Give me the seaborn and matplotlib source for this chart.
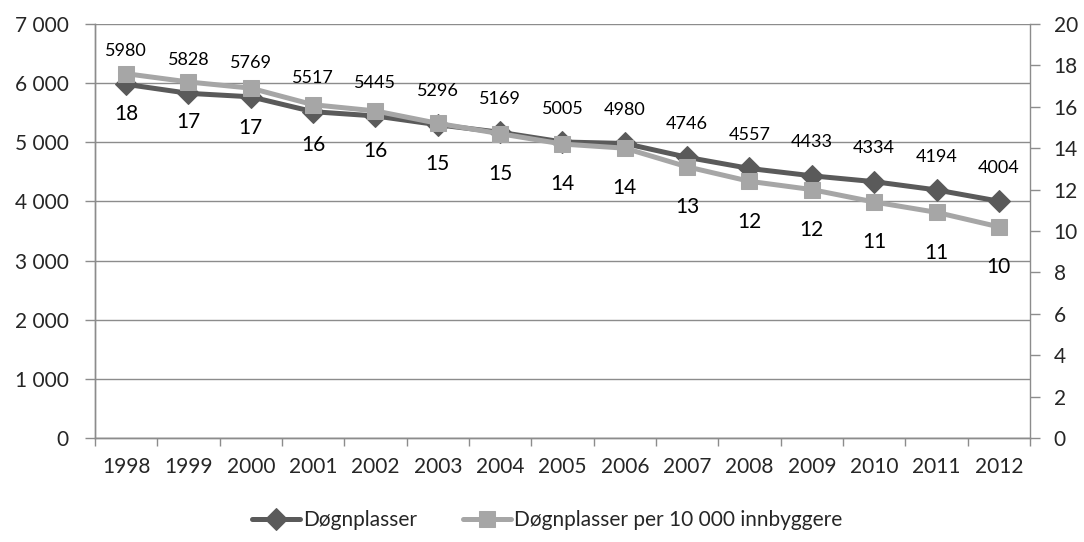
import matplotlib
matplotlib.use("Agg")
import matplotlib.pyplot as plt
import matplotlib.ticker as mticker
import numpy as np
import pandas as pd
import seaborn as sns

YEARS = ["1998", "1999", "2000", "2001", "2002", "2003", "2004", "2005",
         "2006", "2007", "2008", "2009", "2010", "2011", "2012"]
PLACES = [5980, 5828, 5769, 5517, 5445, 5296, 5169, 5005,
          4980, 4746, 4557, 4433, 4334, 4194, 4004]
PER_10000 = [17.6, 17.2, 16.9, 16.1, 15.8, 15.2, 14.7, 14.2,
             14.0, 13.1, 12.4, 12.0, 11.4, 10.9, 10.2]

DARK = "#5a5a5a"
LIGHT = "#a6a6a6"
GRID = "#8c8c8c"


def space_thousands(value, _pos):
    return f"{int(value):,}".replace(",", " ")


def main() -> None:
    sns.set_theme(style="white")
    plt.rcParams["font.family"] = ["Lato", "DejaVu Sans"]

    df = pd.DataFrame({"year": YEARS, "places": PLACES, "per10k": PER_10000})

    fig = plt.figure(figsize=(10.84, 5.42), dpi=100)
    ax = fig.add_axes([0.0876, 0.192, 0.8626, 0.7637])
    ax2 = ax.twinx()

    sns.lineplot(data=df, x="year", y="places", ax=ax, color=DARK, linewidth=3.6,
                 marker="D", markersize=11, markeredgecolor=DARK,
                 label="Døgnplasser", legend=False)
    sns.lineplot(data=df, x="year", y="per10k", ax=ax2, color=LIGHT, linewidth=3.6,
                 marker="s", markersize=12, markeredgecolor=LIGHT,
                 label="Døgnplasser per 10 000 innbyggere", legend=False)

    # verdier over den mørke linja, avrundede tall under den lyse
    for i, (p, r) in enumerate(zip(PLACES, PER_10000)):
        ax.annotate(f"{p}", (i, p), xytext=(0, 24), textcoords="offset points",
                    ha="center", va="center", fontsize=13, color="black")
        ax2.annotate(f"{round(r)}", (i, r), xytext=(0, -29), textcoords="offset points",
                     ha="center", va="center", fontsize=15, color="black")

    ax.set_xlim(-0.5, len(YEARS) - 0.5)
    ax.set_ylim(0, 7000)
    ax2.set_ylim(0, 20)
    ax.set_yticks(np.arange(0, 7001, 1000))
    ax2.set_yticks(np.arange(0, 21, 2))
    ax.yaxis.set_major_formatter(mticker.FuncFormatter(space_thousands))

    ax.set_xticks(np.arange(-0.5, len(YEARS)), minor=True)
    ax.tick_params(axis="x", which="major", length=0, pad=14, labelsize=15)
    ax.tick_params(axis="x", which="minor", length=6, width=1, color=GRID, bottom=True)
    ax.tick_params(axis="y", left=True, length=7, width=1, color=GRID, pad=12, labelsize=15)
    ax2.tick_params(axis="y", right=True, length=7, width=1, color=GRID, pad=10, labelsize=15)

    ax.yaxis.grid(True, color=GRID, linewidth=1)
    ax.xaxis.grid(False)
    ax2.grid(False)
    ax.set_xlabel("")
    ax.set_ylabel("")
    ax2.set_ylabel("")

    for axis in (ax, ax2):
        axis.spines["top"].set_visible(False)
        for side in ("left", "right", "bottom"):
            axis.spines[side].set_color(GRID)
            axis.spines[side].set_linewidth(1)
    ax.spines["right"].set_visible(False)

    handles = ax.get_lines()[:1] + ax2.get_lines()[:1]
    labels = ["Døgnplasser", "Døgnplasser per 10 000 innbyggere"]
    fig.legend(handles, labels, loc="center", bbox_to_anchor=(0.505, 0.04), ncol=2,
               frameon=False, fontsize=15, handlelength=2.3, handletextpad=0.15,
               columnspacing=2.2)

    fig.savefig("out.png", dpi=100)
    plt.close(fig)


if __name__ == "__main__":
    main()
